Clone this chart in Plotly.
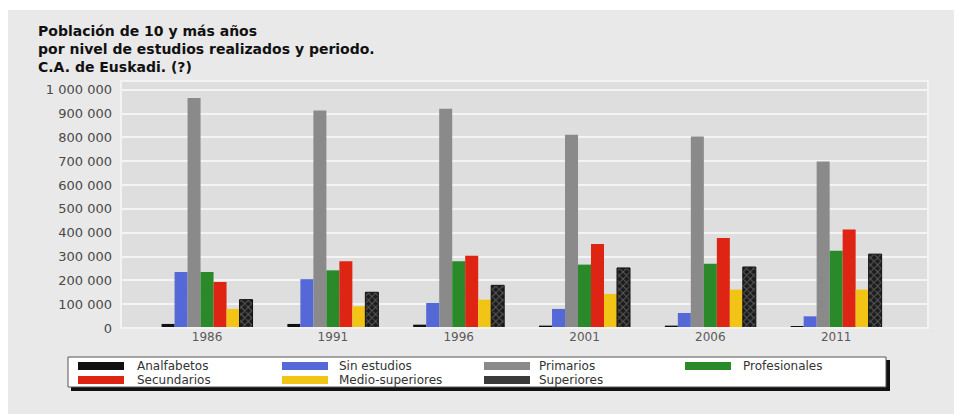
import plotly.graph_objects as go

years = ["1986", "1991", "1996", "2001", "2006", "2011"]
analfabetos = [17000, 17000, 14000, 10000, 10000, 5000]
sin_estudios = [235000, 205000, 105000, 80000, 63000, 49000]
primarios = [965000, 913000, 920000, 811000, 804000, 699000]
profesionales = [235000, 242000, 280000, 266000, 270000, 324000]
secundarios = [193000, 280000, 303000, 352000, 378000, 413000]
medio_superiores = [80000, 91000, 119000, 143000, 161000, 161000]
superiores = [119000, 150000, 179000, 252000, 256000, 310000]

series_names = ["Analfabetos", "Sin estudios", "Primarios", "Profesionales",
                "Secundarios", "Medio-superiores", "Superiores"]
series_values = [analfabetos, sin_estudios, primarios, profesionales,
                 secundarios, medio_superiores, superiores]
colors = ["#111111", "#5468d8", "#8a8a8a", "#2a8a2a", "#de2412", "#f2c416", "#1c1c1c"]

y_tickvals = [0, 100000, 200000, 300000, 400000, 500000, 600000, 700000, 800000, 900000, 1000000]
y_ticktext = ["0", "100 000", "200 000", "300 000", "400 000", "500 000", "600 000",
              "700 000", "800 000", "900 000", "1 000 000"]

title_lines = ["Población de 10 y más años",
               "por nivel de estudios realizados y periodo.",
               "C.A. de Euskadi. (?)"]

# page offset: the html body has an 8px margin
OFF = 8
W, H = 962 - OFF, 414 - OFF
L, R, T, B = 121 - OFF, 928 - OFF, 81 - OFF, 328 - OFF


def px(x):
    """page pixel x -> paper x"""
    return (x - OFF - L) / (R - L)


def py(y):
    """page pixel y -> paper y"""
    return (B - (y - OFF)) / (B - T)


fig = go.Figure()
for name, vals, col in zip(series_names, series_values, colors):
    marker = dict(color=col, line=dict(width=0))
    if name == "Superiores":
        marker = dict(color="#1c1c1c",
                      line=dict(width=1, color="#111111"),
                      pattern=dict(shape="x", fgcolor="#9a9a9a", bgcolor="#1c1c1c",
                                   size=5, solidity=0.35))
    fig.add_trace(go.Bar(x=years, y=vals, name=name, marker=marker, showlegend=False))

shapes = []
# thin white strip at the top of the panel
shapes.append(dict(type="rect", xref="paper", yref="paper", layer="below",
                   x0=px(0), x1=px(970), y0=py(10), y1=py(0),
                   fillcolor="#ffffff", line=dict(width=0)))
# plot border
shapes.append(dict(type="rect", xref="paper", yref="paper", layer="above",
                   x0=0, x1=1, y0=0, y1=1, line=dict(color="#f3f3f3", width=2)))
# legend shadow and box
shapes.append(dict(type="rect", xref="paper", yref="paper",
                   x0=px(71), x1=px(890), y0=py(391), y1=py(360),
                   fillcolor="#111111", line=dict(width=0)))
shapes.append(dict(type="rect", xref="paper", yref="paper",
                   x0=px(68), x1=px(886), y0=py(387), y1=py(357),
                   fillcolor="#ffffff", line=dict(color="#555555", width=1)))

annotations = []
col_sw = [78, 282, 484, 685]
col_tx = [135, 337, 537, 741]
row_y = [366, 380]
for i, name in enumerate(series_names):
    r, c = divmod(i, 4)
    yc = row_y[r]
    shapes.append(dict(type="rect", xref="paper", yref="paper",
                       x0=px(col_sw[c]), x1=px(col_sw[c] + 46),
                       y0=py(yc + 4), y1=py(yc - 4),
                       fillcolor=colors[i] if name != "Superiores" else "#3a3a3a",
                       line=dict(width=0)))
    annotations.append(dict(xref="paper", yref="paper", x=px(col_tx[c]), y=py(yc),
                            xanchor="left", yanchor="middle", showarrow=False,
                            text=name, font=dict(family="DejaVu Sans", size=12, color="#333333")))

annotations.append(dict(xref="paper", yref="paper", x=px(36), y=py(21),
                        xanchor="left", yanchor="top", align="left", showarrow=False,
                        text="<br>".join(title_lines),
                        font=dict(family="DejaVu Sans", size=14, color="#111111",
                                  weight="bold")))

fig.update_layout(
    width=W, height=H,
    margin=dict(l=L, r=W - R, t=T, b=H - B, pad=0),
    paper_bgcolor="#e9e9e9",
    plot_bgcolor="#dedede",
    barmode="group",
    bargap=0.277,
    bargroupgap=0,
    shapes=shapes,
    annotations=annotations,
    showlegend=False,
    xaxis=dict(type="category", range=[-0.684, 5.73], showgrid=False, ticks="",
               tickfont=dict(family="DejaVu Sans", size=12, color="#5a5a5a"),
               showline=False, zeroline=False),
    yaxis=dict(range=[0, 1036500], tickvals=y_tickvals, ticktext=y_ticktext,
               showgrid=True, gridcolor="#f4f4f4", gridwidth=2, zeroline=False,
               ticks="", ticklen=0, ticklabelstandoff=8,
               tickfont=dict(family="DejaVu Sans", size=13, color="#4a4a4a")),
)

fig.write_html("out.html")
